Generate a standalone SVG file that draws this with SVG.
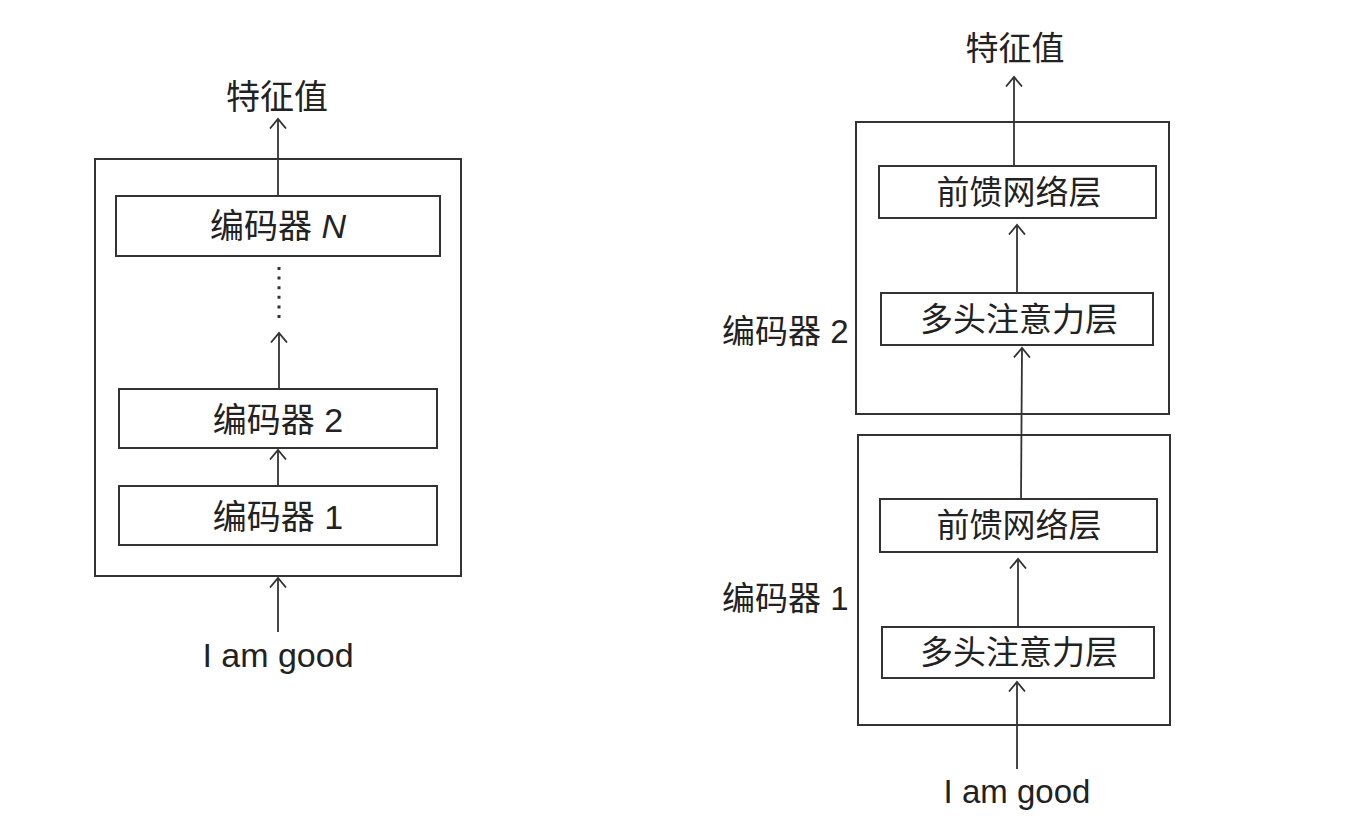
<svg xmlns="http://www.w3.org/2000/svg" width="1353" height="829" viewBox="0 0 1353 829">
<style>
  .box { fill: #fff; stroke: #333; stroke-width: 2; }
  .outer { fill: none; stroke: #333; stroke-width: 2; }
  .conn { stroke: #333; stroke-width: 1.8; fill: none; }
  .t { font-family: "Liberation Sans", "Noto Sans CJK SC", sans-serif; fill: #222; text-anchor: middle; }
  .l { font-size: 34px; }
  .r { font-size: 33px; }
</style>
<defs>
  <marker id="arr" viewBox="0 0 20 20" markerWidth="20" markerHeight="20" refX="10" refY="10" orient="auto" markerUnits="userSpaceOnUse">
    <path d="M0.5,2 L10,10 L0.5,18" fill="none" stroke="#333" stroke-width="1.8"/>
  </marker>
</defs>
<rect width="1353" height="829" fill="#fff"/>

<!-- Left diagram -->
<g id="left-encoder-stack">
  <rect class="outer" x="95" y="159" width="366" height="417"/>
</g>
<g id="left-encN">
  <rect class="box" x="116" y="196" width="324" height="60"/>
  <text class="t l" x="278" y="238">编码器 <tspan font-style="italic">N</tspan></text>
</g>
<g id="left-enc2">
  <rect class="box" x="119" y="389" width="318" height="59"/>
  <text class="t l" x="278" y="432">编码器 2</text>
</g>
<g id="left-enc1">
  <rect class="box" x="119" y="486" width="318" height="59"/>
  <text class="t l" x="278" y="529">编码器 1</text>
</g>
<g id="left-output">
  <text class="t l" x="277" y="109">特征值</text>
</g>
<g id="left-input">
  <text class="t l" x="278" y="667">I am good</text>
</g>

<!-- Right diagram -->
<g id="right-enc2">
  <rect class="outer" x="856" y="122" width="313" height="292"/>
  <text class="t r" x="722" y="343" style="text-anchor:start">编码器 2</text>
</g>
<g id="right-enc2-ffn">
  <rect class="box" x="879" y="166" width="277" height="52"/>
  <text class="t r" x="1019" y="204">前馈网络层</text>
</g>
<g id="right-enc2-mha">
  <rect class="box" x="881" y="293" width="272" height="52"/>
  <text class="t r" x="1019" y="331">多头注意力层</text>
</g>
<g id="right-enc1">
  <rect class="outer" x="858" y="435" width="312" height="290"/>
  <text class="t r" x="722" y="610" style="text-anchor:start">编码器 1</text>
</g>
<g id="right-enc1-ffn">
  <rect class="box" x="880" y="499" width="277" height="53"/>
  <text class="t r" x="1019" y="537">前馈网络层</text>
</g>
<g id="right-enc1-mha">
  <rect class="box" x="882" y="627" width="272" height="51"/>
  <text class="t r" x="1019" y="664">多头注意力层</text>
</g>
<g id="right-output">
  <text class="t r" x="1015" y="60">特征值</text>
</g>
<g id="right-input">
  <text class="t r" x="1017" y="803">I am good</text>
</g>

<!-- Connectors -->
<g id="connectors">
  <line class="conn" x1="278" y1="632" x2="278" y2="578" marker-end="url(#arr)"/>
  <line class="conn" x1="278" y1="486" x2="278" y2="450" marker-end="url(#arr)"/>
  <line class="conn" x1="279" y1="389" x2="279" y2="333" marker-end="url(#arr)"/>
  <line x1="279" y1="267" x2="279" y2="320" stroke="#333" stroke-width="3" stroke-dasharray="3 6.6"/>
  <line class="conn" x1="278" y1="196" x2="278" y2="119" marker-end="url(#arr)"/>

  <line class="conn" x1="1017" y1="769" x2="1017" y2="682" marker-end="url(#arr)"/>
  <line class="conn" x1="1018" y1="627" x2="1018" y2="559" marker-end="url(#arr)"/>
  <line class="conn" x1="1021" y1="499" x2="1022" y2="348" marker-end="url(#arr)"/>
  <line class="conn" x1="1017" y1="293" x2="1017" y2="225" marker-end="url(#arr)"/>
  <line class="conn" x1="1014" y1="166" x2="1014" y2="77" marker-end="url(#arr)"/>
</g>
</svg>
